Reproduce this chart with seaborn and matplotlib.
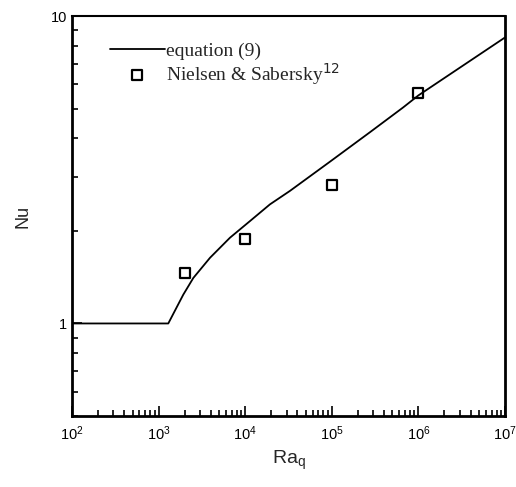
import numpy as np
import pandas as pd
import matplotlib
matplotlib.use("Agg")
import matplotlib.pyplot as plt
import matplotlib.ticker as mticker
import seaborn as sns

# equation (9) curve
ra_eq = [1e2, 1294, 1928, 2517, 3927, 6673, 11350, 19300, 32900, 95300, 276000, 664000, 1.0e6, 1.0e7]
nu_eq = [1.0, 1.0, 1.241, 1.406, 1.636, 1.901, 2.153, 2.44, 2.70, 3.36, 4.19, 5.04, 5.52, 8.52]

# Nielsen & Sabersky data
ra_exp = [2e3, 1e4, 1e5, 1e6]
nu_exp = [1.46, 1.88, 2.82, 5.6]

sns.set_theme(style="ticks")
plt.rcParams['font.family'] = ['Liberation Sans', 'DejaVu Sans']

fig = plt.figure(figsize=(5.16, 4.87), dpi=100)
ax = fig.add_axes([0.1395, 0.1458, 0.8392, 0.8212])

sns.lineplot(x=ra_eq, y=nu_eq, ax=ax, color='black', linewidth=1.3,
             label='equation (9)', sort=False)
sns.scatterplot(x=ra_exp, y=nu_exp, ax=ax, marker='s', s=45,
                facecolor='white', edgecolor='black', linewidth=1.6,
                label='Nielsen & Sabersky$^{12}$')

ax.set_xscale('log')
ax.set_yscale('log')
ax.set_xlim(1e2, 1e7)
ax.set_ylim(0.5, 10)

ax.xaxis.set_major_locator(mticker.LogLocator(base=10, numticks=10))
ax.xaxis.set_minor_locator(mticker.LogLocator(base=10, subs=np.arange(2, 10), numticks=20))
ax.yaxis.set_major_locator(mticker.FixedLocator([1, 10]))
ax.yaxis.set_major_formatter(mticker.FixedFormatter(['1', '10']))
ax.yaxis.set_minor_locator(mticker.LogLocator(base=10, subs=np.arange(2, 10), numticks=20))
ax.yaxis.set_minor_formatter(mticker.NullFormatter())

ax.tick_params(which='both', direction='in', top=False, right=False, colors='black',
               labelsize=10.5)
ax.tick_params(which='major', length=7, width=1.2)
ax.tick_params(which='minor', length=4, width=1.2)
ax.tick_params(axis='x', pad=6)

for side in ['left', 'bottom', 'right']:
    ax.spines[side].set_linewidth(2)
    ax.spines[side].set_color('black')
ax.spines['top'].set_linewidth(1.5)
ax.spines['top'].set_color('black')

ax.set_xlabel('Ra$_\\mathregular{q}$', fontsize=14, labelpad=4)
ax.set_ylabel('Nu', fontsize=13, labelpad=14)

leg = ax.legend(loc='upper left', bbox_to_anchor=(0.088, 0.935), frameon=False,
                borderpad=0, borderaxespad=0,
                handlelength=2.8, handletextpad=0.1, labelspacing=0.05,
                prop={'family': 'Liberation Serif', 'size': 14})

fig.savefig('out.png', dpi=100, facecolor='white')
